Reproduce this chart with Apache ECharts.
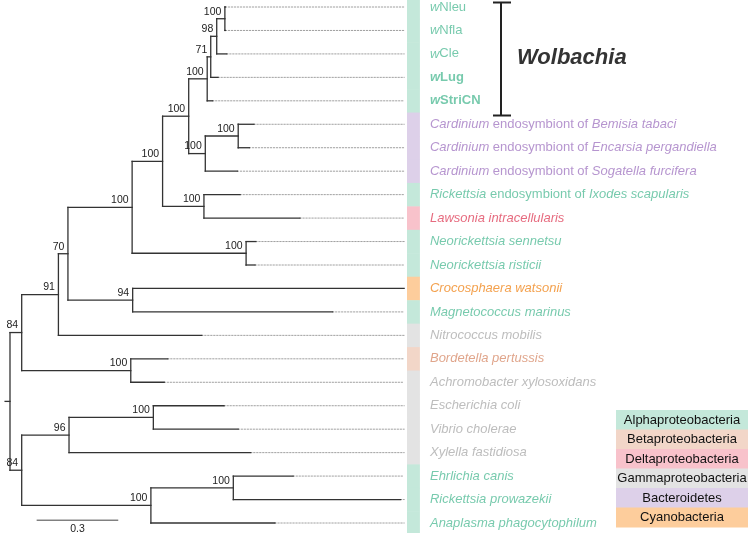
<!DOCTYPE html>
<html><head><meta charset="utf-8">
<script src="https://cdn.jsdelivr.net/npm/echarts@6/dist/echarts.min.js"></script>
<style>html,body{margin:0;padding:0;background:#fff}#c{width:748px;height:533px}</style>
</head><body><div id="c"></div>
<script>
// ---- data ----
const leafLabels = [
  '{i|w}{n|Nleu}', '{i|w}{n|Nfla}', '{i|w}{n|Cle}', '{bi|w}{b|Lug}', '{bi|w}{b|StriCN}',
  '{i|Cardinium}{n| endosymbiont of }{i|Bemisia tabaci}',
  '{i|Cardinium}{n| endosymbiont of }{i|Encarsia pergandiella}',
  '{i|Cardinium}{n| endosymbiont of }{i|Sogatella furcifera}',
  '{i|Rickettsia}{n| endosymbiont of }{i|Ixodes scapularis}',
  '{i|Lawsonia intracellularis}',
  '{i|Neorickettsia sennetsu}', '{i|Neorickettsia risticii}',
  '{i|Crocosphaera watsonii}', '{i|Magnetococcus marinus}', '{i|Nitrococcus mobilis}',
  '{i|Bordetella pertussis}', '{i|Achromobacter xylosoxidans}', '{i|Escherichia coli}',
  '{i|Vibrio cholerae}', '{i|Xylella fastidiosa}', '{i|Ehrlichia canis}',
  '{i|Rickettsia prowazekii}', '{i|Anaplasma phagocytophilum}'
];
const leafGroups = [0,0,0,0,0,4,4,4,0,2,0,0,5,0,3,1,3,3,3,3,0,0,0];
const leafParents = ['K','K','J','I','H','M','M','L','N','N','O','O','P','P','C','Q','Q','T','T','S','V','V','U'];
const leafDepths = [0.792,0.792,0.797,0.765,0.745,0.897,0.880,0.836,0.846,1.066,0.904,0.901,1.449,1.186,0.705,0.580,0.567,0.787,0.839,0.885,1.041,1.436,0.974];

const nodeNames   = ['R','A','C','D','E','F','G','H','I','J','K','L','M','N','O','P','Q','B','S','T','U','V'];
const nodeParents = [null,'R','A','C','D','E','F','G','H','I','J','G','L','F','E','D','A','R','B','S','B','U'];
const nodeDepths  = [0,0.043,0.178,0.213,0.449,0.561,0.657,0.725,0.738,0.760,0.790,0.718,0.839,0.713,0.868,0.451,0.444,0.043,0.217,0.527,0.518,0.821];
const nodeSupport = [null,84,91,70,100,100,100,100,71,98,100,100,100,100,100,94,100,84,96,100,100,100];

const groupNames = ['Alphaproteobacteria','Betaproteobacteria','Deltaproteobacteria','Gammaproteobacteria','Bacteroidetes','Cyanobacteria'];
const groupBarColors = ['#c4e8da','#f2d6c8','#f8c2cb','#e3e3e3','#ddd0e9','#fdcd9c'];
const groupTextColors = ['#55bd98','#d88f6e','#e0465f','#acacac','#a47bc3','#f08a22'];

const scaleBarValue = 0.3;
const scaleBarLabel = '0.3';

// ---- layout constants ----
const ROOT_STUB = -0.018;
const DOT_END = 1.449;
const BAR_X0 = 1.4596, BAR_X1 = 1.507;
const LABEL_X = 1.544;
const SCALE_X0 = 0.098, SCALE_ROW = 21.88;
const FONT = "'Liberation Sans', Arial, Helvetica, sans-serif";

// ---- build tree geometry ----
const nodeY = {}, nodeX = {};
nodeNames.forEach((n, i) => { nodeX[n] = nodeDepths[i]; });
function yOf(n) {
  if (nodeY[n] !== undefined) return nodeY[n];
  const ys = [];
  leafParents.forEach((p, i) => { if (p === n) ys.push(i); });
  nodeNames.forEach((m, i) => { if (nodeParents[i] === n) ys.push(yOf(m)); });
  const lo = Math.min(...ys), hi = Math.max(...ys);
  nodeY[n] = (lo + hi) / 2;
  nodeY[n + '_lo'] = lo; nodeY[n + '_hi'] = hi;
  return nodeY[n];
}
nodeNames.forEach(n => yOf(n));

const solid = [], dotted = [], supports = [];
nodeNames.forEach((n, i) => {
  const y = nodeY[n], x = nodeX[n];
  solid.push([x, nodeY[n + '_lo'], x, nodeY[n + '_hi']]);
  const p = nodeParents[i];
  solid.push([p ? nodeX[p] : ROOT_STUB, y, x, y]);
  if (nodeSupport[i] != null) supports.push([x, y, nodeSupport[i]]);
});
leafParents.forEach((p, i) => {
  solid.push([nodeX[p], i, leafDepths[i], i]);
  if (leafDepths[i] < DOT_END) dotted.push([leafDepths[i], i, DOT_END, i]);
});
const bands = leafGroups.map((g, i) => [BAR_X0, i, BAR_X1, g]);
const labelData = leafLabels.map((t, i) => {
  const c = groupTextColors[leafGroups[i]];
  const base = {color: c, fontSize: 13, fontFamily: FONT, lineHeight: 16, verticalAlign: 'middle'};
  return {value: [LABEL_X, i], label: {
    color: c,
    rich: {
      n: Object.assign({}, base),
      i: Object.assign({fontStyle: 'italic'}, base),
      b: Object.assign({fontWeight: 'bold'}, base),
      bi: Object.assign({fontWeight: 'bold', fontStyle: 'italic'}, base)
    }}};
});

function lineRender(color, width, dash) {
  return (params, api) => {
    const a = api.coord([api.value(0), api.value(1)]);
    const b = api.coord([api.value(2), api.value(3)]);
    return {type: 'line', shape: {x1: a[0], y1: a[1], x2: b[0], y2: b[1]},
      style: {stroke: color, lineWidth: width, lineDash: dash || null, lineCap: 'square'}};
  };
}

const chart = echarts.init(document.getElementById('c'), null, {renderer: 'canvas'});
const legendTop = 410, legendRow = 19.5, legendLeft = 616, legendW = 132;
const graphics = [];
groupNames.forEach((g, i) => {
  graphics.push({type: 'rect', left: legendLeft, top: legendTop + i * legendRow,
    shape: {width: legendW, height: legendRow + 0.5}, style: {fill: groupBarColors[i]}, z: 10});
  graphics.push({type: 'text', x: legendLeft + legendW / 2, y: legendTop + i * legendRow + legendRow / 2 + 0.5,
    style: {text: g, fill: '#111', font: '13px ' + FONT, textAlign: 'center', textVerticalAlign: 'middle'}, z: 11});
});
// Wolbachia bracket
graphics.push({type: 'line', shape: {x1: 501, y1: 2.5, x2: 501, y2: 115.5}, style: {stroke: '#222', lineWidth: 2}});
graphics.push({type: 'line', shape: {x1: 493, y1: 2.5, x2: 511, y2: 2.5}, style: {stroke: '#222', lineWidth: 2}});
graphics.push({type: 'line', shape: {x1: 493, y1: 115.5, x2: 511, y2: 115.5}, style: {stroke: '#222', lineWidth: 2}});
graphics.push({type: 'text', x: 517, y: 58, style: {text: 'Wolbachia', fill: '#333',
  font: 'italic bold 22px ' + FONT, textVerticalAlign: 'middle'}});

chart.setOption({
  animation: false,
  grid: {left: 10, top: 7, width: 544, height: 516, containLabel: false},
  xAxis: {type: 'value', min: 0, max: 2, show: false},
  yAxis: {type: 'value', min: 0, max: 22, inverse: true, show: false},
  graphic: graphics,
  series: [
    {type: 'custom', clip: false, data: bands, encode: {x: [0, 2], y: 1},
      renderItem: (params, api) => {
        const a = api.coord([api.value(0), api.value(1) - 0.5]);
        const b = api.coord([api.value(2), api.value(1) + 0.5]);
        return {type: 'rect', shape: {x: a[0], y: a[1], width: b[0] - a[0], height: b[1] - a[1] + 0.5},
          style: {fill: groupBarColors[api.value(3)]}};
      }},
    {type: 'custom', clip: false, data: dotted, encode: {x: [0, 2], y: [1, 3]},
      renderItem: lineRender('#a0a0a0', 1, [1.2, 1.8])},
    {type: 'custom', clip: false, data: solid, encode: {x: [0, 2], y: [1, 3]},
      renderItem: lineRender('#333', 1.3)},
    {type: 'custom', clip: false, data: supports, encode: {x: 0, y: 1},
      renderItem: (params, api) => {
        const a = api.coord([api.value(0), api.value(1)]);
        return {type: 'text', x: a[0] - 3.5, y: a[1] - 1.5,
          style: {text: String(api.value(2)), fill: '#222', font: '10.5px ' + FONT,
            textAlign: 'right', textVerticalAlign: 'bottom'}};
      }},
    {type: 'custom', clip: false, data: [[SCALE_X0, SCALE_ROW, SCALE_X0 + scaleBarValue]], encode: {x: [0, 2], y: 1},
      renderItem: (params, api) => {
        const a = api.coord([api.value(0), api.value(1)]);
        const b = api.coord([api.value(2), api.value(1)]);
        return {type: 'group', children: [
          {type: 'line', shape: {x1: a[0], y1: a[1], x2: b[0], y2: b[1]}, style: {stroke: '#444', lineWidth: 1}},
          {type: 'text', x: (a[0] + b[0]) / 2, y: a[1] + 3,
            style: {text: scaleBarLabel, fill: '#222', font: '10.5px ' + FONT, textAlign: 'center', textVerticalAlign: 'top'}}
        ]};
      }},
    {type: 'scatter', symbolSize: 0, data: labelData, silent: true,
      label: {show: true, position: 'right', distance: 0, fontSize: 13, fontFamily: FONT,
        formatter: (p) => leafLabels[p.dataIndex]}}
  ]
});
</script></body></html>
